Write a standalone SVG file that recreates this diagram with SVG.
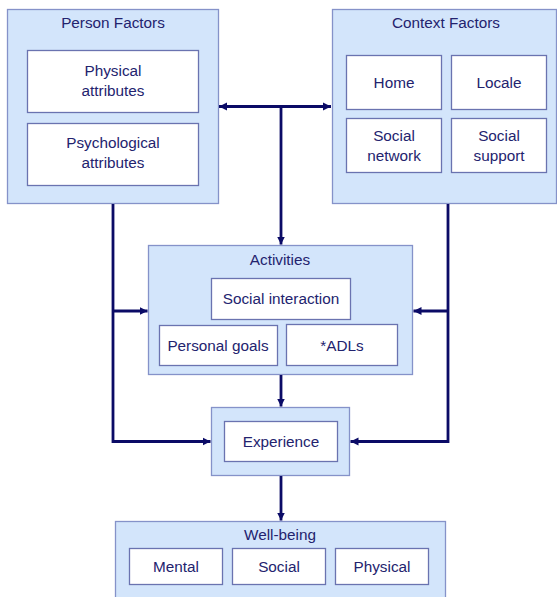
<svg xmlns="http://www.w3.org/2000/svg" width="557" height="597" viewBox="0 0 557 597">
<style>
.outer{fill:#d3e5fb;stroke:#8592c9;stroke-width:1.3}
.inner{fill:#ffffff;stroke:#6a73b0;stroke-width:1.3}
text{font-family:"Liberation Sans",Arial,sans-serif;font-size:15.3px;fill:#23236e;text-anchor:middle;dominant-baseline:central}
.conn{fill:none;stroke:#0b0b66;stroke-width:2.8}
</style>
<defs>
<marker id="ah" markerUnits="userSpaceOnUse" markerWidth="9" markerHeight="9" refX="8" refY="4.5" orient="auto-start-reverse">
<path d="M0,0.5 L8,4.5 L0,8.5 Z" fill="#0b0b66"/>
</marker>
</defs>
<rect width="557" height="597" fill="#ffffff"/>
<g id="person">
<rect class="outer" x="7.5" y="9.5" width="211" height="194"/>
<text x="113" y="22">Person Factors</text>
<rect class="inner" x="27.5" y="50.5" width="171" height="62"/>
<text x="113" y="70">Physical</text>
<text x="113" y="90">attributes</text>
<rect class="inner" x="27.5" y="123.5" width="171" height="62"/>
<text x="113" y="142">Psychological</text>
<text x="113" y="162">attributes</text>
</g>
<g id="context">
<rect class="outer" x="332.5" y="9.5" width="224" height="194"/>
<text x="446" y="22">Context Factors</text>
<rect class="inner" x="346.5" y="55.5" width="95" height="54"/>
<text x="394" y="82">Home</text>
<rect class="inner" x="451.5" y="55.5" width="95" height="54"/>
<text x="499" y="82">Locale</text>
<rect class="inner" x="346.5" y="118.5" width="95" height="54"/>
<text x="394" y="135">Social</text>
<text x="394" y="155">network</text>
<rect class="inner" x="451.5" y="118.5" width="95" height="54"/>
<text x="499" y="135">Social</text>
<text x="499" y="155">support</text>
</g>
<g id="activities">
<rect class="outer" x="148.5" y="245.5" width="264" height="129"/>
<text x="280" y="259">Activities</text>
<rect class="inner" x="211.5" y="278.5" width="139" height="41"/>
<text x="281" y="298">Social interaction</text>
<rect class="inner" x="159.5" y="325.5" width="118" height="40"/>
<text x="218" y="345">Personal goals</text>
<rect class="inner" x="286.5" y="324.5" width="111" height="41"/>
<text x="342" y="345">*ADLs</text>
</g>
<g id="experience">
<rect class="outer" x="211.5" y="407.5" width="138" height="68"/>
<rect class="inner" x="224.5" y="421.5" width="113" height="40"/>
<text x="281" y="441">Experience</text>
</g>
<g id="wellbeing">
<rect class="outer" x="115.5" y="521.5" width="330" height="80"/>
<text x="280" y="534">Well-being</text>
<rect class="inner" x="129.5" y="548.5" width="93" height="36"/>
<text x="176" y="566">Mental</text>
<rect class="inner" x="232.5" y="548.5" width="93" height="36"/>
<text x="279" y="566">Social</text>
<rect class="inner" x="335.5" y="548.5" width="93" height="36"/>
<text x="382" y="566">Physical</text>
</g>
<g id="connectors">
<path class="conn" d="M219,106.5 H331" marker-start="url(#ah)" marker-end="url(#ah)"/>
<path class="conn" d="M281,106.5 V244.5" marker-end="url(#ah)"/>
<path class="conn" d="M113,204 V441.5 H210.5" marker-end="url(#ah)"/>
<path class="conn" d="M113,311 H147.5" marker-end="url(#ah)"/>
<path class="conn" d="M448,204 V441.5 H350.5" marker-end="url(#ah)"/>
<path class="conn" d="M448,311 H413.5" marker-end="url(#ah)"/>
<path class="conn" d="M281,375 V406.5" marker-end="url(#ah)"/>
<path class="conn" d="M281,476 V520.5" marker-end="url(#ah)"/>
</g>
</svg>
